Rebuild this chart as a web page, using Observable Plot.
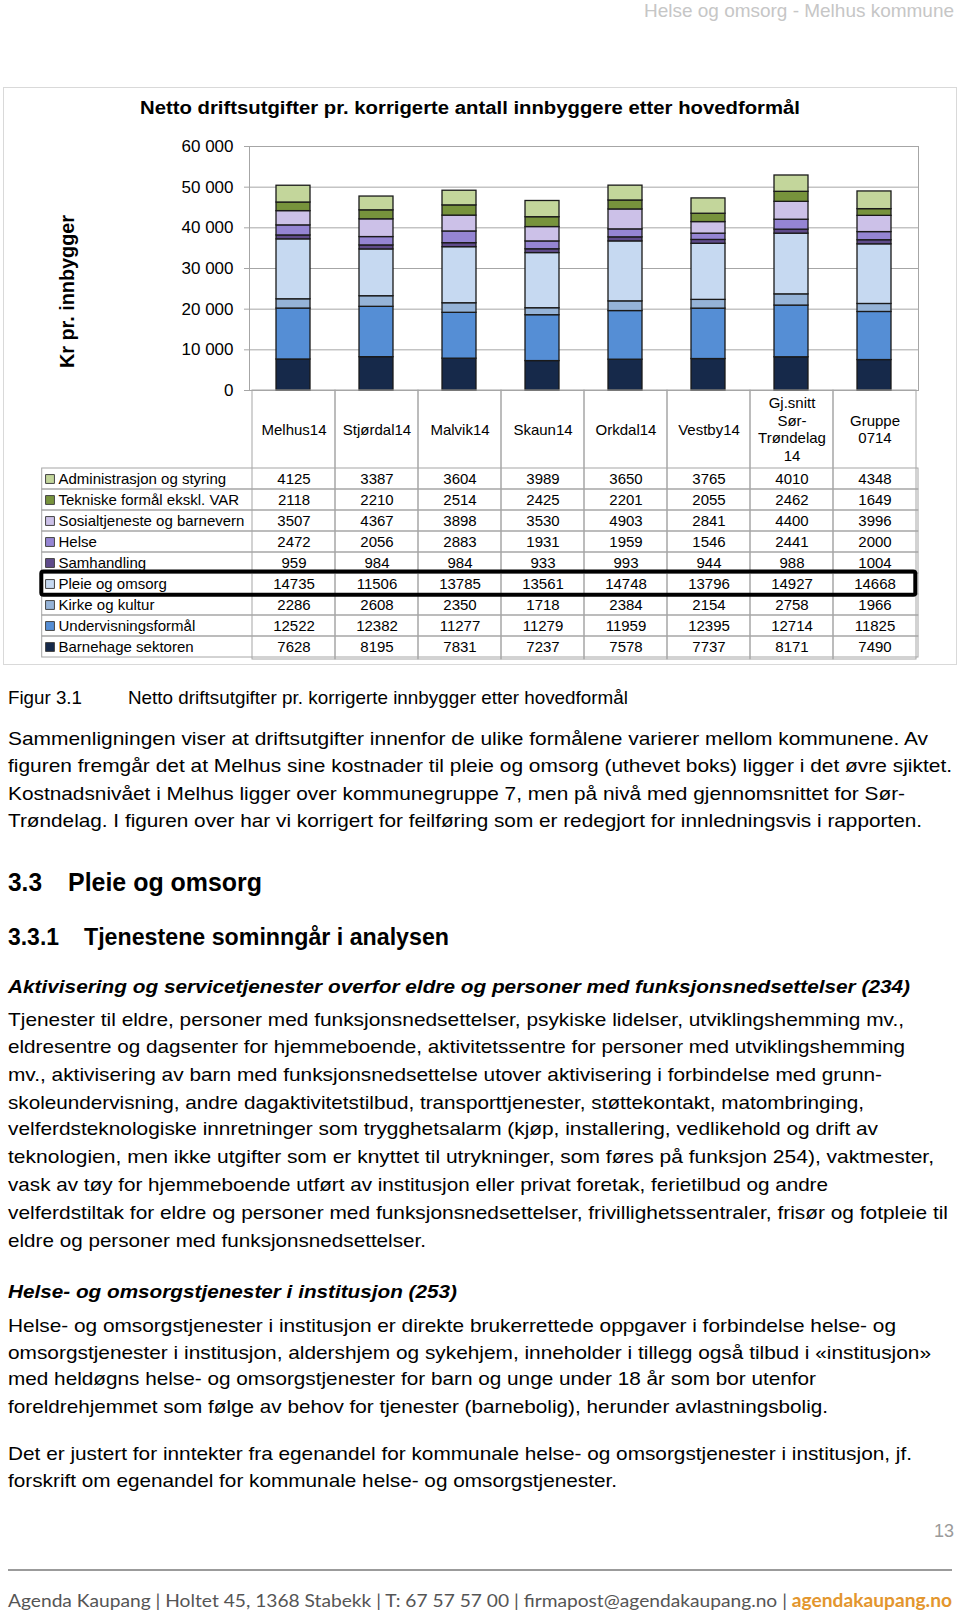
<!DOCTYPE html>
<html><head><meta charset="utf-8">
<script src="https://cdn.jsdelivr.net/npm/d3@7"></script>
<script src="https://cdn.jsdelivr.net/npm/@observablehq/plot@0.6"></script>
<style>
html,body{margin:0;padding:0;background:#fff;}
#page{position:relative;width:960px;height:1613px;overflow:hidden;font-family:"Liberation Sans",Arial,sans-serif;background:#fff;}
#frame{position:absolute;left:3px;top:87px;width:954px;height:578px;border:1.5px solid #d9d9d9;box-sizing:border-box;}
#plot1{position:absolute;left:0;top:120px;}
#plot2{position:absolute;left:0;top:390px;}
#overlay{position:absolute;left:0;top:0;}
</style></head>
<body>
<div id="page"><div id="frame"></div><div id="plot1"></div><div id="plot2"></div><svg id="overlay" width="960" height="1613"></svg></div>
<script>
// ---- chart data ----
const categories = ["Melhus14","Stjørdal14","Malvik14","Skaun14","Orkdal14","Vestby14","Gj.snitt Sør-Trøndelag 14","Gruppe 0714"];
const categoryLabels = ["Melhus14","Stjørdal14","Malvik14","Skaun14","Orkdal14","Vestby14","Gj.snitt\nSør-\nTrøndelag\n14","Gruppe\n0714"];
const seriesNames = ["Administrasjon og styring","Tekniske formål ekskl. VAR","Sosialtjeneste og barnevern","Helse","Samhandling","Pleie og omsorg","Kirke og kultur","Undervisningsformål","Barnehage sektoren"];
const seriesColors = ["#c3d69b","#77933c","#ccc1e8","#9585d3","#5f4b8b","#c6d9f1","#95b3d7","#558ed5","#16294a"];
const administrasjon = [4125,3387,3604,3989,3650,3765,4010,4348];
const tekniske = [2118,2210,2514,2425,2201,2055,2462,1649];
const sosial = [3507,4367,3898,3530,4903,2841,4400,3996];
const helse = [2472,2056,2883,1931,1959,1546,2441,2000];
const samhandling = [959,984,984,933,993,944,988,1004];
const pleie = [14735,11506,13785,13561,14748,13796,14927,14668];
const kirke = [2286,2608,2350,1718,2384,2154,2758,1966];
const undervisning = [12522,12382,11277,11279,11959,12395,12714,11825];
const barnehage = [7628,8195,7831,7237,7578,7737,8171,7490];
const yTicks = [0,10000,20000,30000,40000,50000,60000];
const highlighted = ["Pleie og omsorg"];

const seriesValues = [administrasjon,tekniske,sosial,helse,samhandling,pleie,kirke,undervisning,barnehage];
// long table, bottom of stack first
const long = [];
for (let s = seriesNames.length - 1; s >= 0; s--) {
  categories.forEach((c, i) => long.push({cat: c, series: seriesNames[s], value: seriesValues[s][i]}));
}
const fmt = d => d === 0 ? "0" : d3.format(",")(d).replace(/,/g, " ");
const font = "Liberation Sans, Arial, sans-serif";
const gridColor = "#a6a6a6";

const plot1 = Plot.plot({
  width: 960, height: 272, marginTop: 26, marginBottom: 2, marginLeft: 249, marginRight: 42,
  style: {background: "transparent", fontFamily: font, overflow: "visible"},
  x: {domain: categories, paddingInner: 0.59, paddingOuter: 0.295, axis: null},
  y: {domain: [0, 60000], axis: null},
  color: {domain: seriesNames, range: seriesColors},
  marks: [
    Plot.gridY(yTicks, {stroke: gridColor, strokeOpacity: 1}),
    Plot.frame({stroke: gridColor}),
    Plot.axisY(yTicks, {tickSize: 5, tickPadding: 11, fontSize: 17, stroke: gridColor, tickFormat: fmt, label: null}),
    Plot.barY(long, {x: "cat", y: "value", fill: "series", stroke: "#1a1a1a", strokeWidth: 1.3})
  ]
});
document.getElementById("plot1").appendChild(plot1);

const plot2 = Plot.plot({
  width: 960, height: 271, marginTop: 76.7, marginBottom: 2, marginLeft: 249, marginRight: 42,
  style: {background: "transparent", fontFamily: font, overflow: "visible"},
  x: {domain: categories, padding: 0, axis: null},
  y: {domain: seriesNames, padding: 0, axis: null},
  color: {domain: seriesNames, range: seriesColors},
  marks: [
    Plot.cell(seriesNames, {y: d => d, fill: "none", stroke: gridColor, insetLeft: -207.3}),
    Plot.cell(categories, {x: d => d, fill: "none", stroke: gridColor, insetTop: -76.7}),
    Plot.text(categories, {x: d => d, text: (d, i) => categoryLabels[i], frameAnchor: "top", dy: -38.3, lineAnchor: "middle", lineHeight: 1.17, fontSize: 15, fill: "#000"}),
    Plot.text(long, {x: "cat", y: "series", text: d => String(d.value), fontSize: 15, fill: "#000"}),
    Plot.dot(seriesNames, {y: d => d, frameAnchor: "left", dx: -199.5, symbol: "square", r: 5, fill: d => d, stroke: "#444", strokeWidth: 1}),
    Plot.text(seriesNames, {y: d => d, frameAnchor: "left", dx: -191, textAnchor: "start", fontSize: 15, fill: "#000"}),
    Plot.cell(highlighted, {y: d => d, fill: "none", stroke: "#000", strokeWidth: 4, insetLeft: -207.7, insetRight: 2.7, insetTop: -1.5, insetBottom: -0.8, rx: 2})
  ]
});
document.getElementById("plot2").appendChild(plot2);

// ---- page text (layout) ----
const B = "bold", I = "italic";
const pageText = [
  {t: "Helse og omsorg - Melhus kommune", x: 954, y: 17, size: 18.5, fill: "#c6c6c6", len: 310, anchor: "end"},
  {t: "Netto driftsutgifter pr. korrigerte antall innbyggere etter hovedformål", x: 140, y: 113.5, size: 18, weight: B, len: 660},
  {t: "Figur 3.1", x: 8, y: 704, size: 19, len: 74},
  {t: "Netto driftsutgifter pr. korrigerte innbygger etter hovedformål", x: 128, y: 704, size: 19, len: 500},
  {t: "Sammenligningen viser at driftsutgifter innenfor de ulike formålene varierer mellom kommunene. Av", x: 8, y: 744.5, size: 19, len: 920},
  {t: "figuren fremgår det at Melhus sine kostnader til pleie og omsorg (uthevet boks) ligger i det øvre sjiktet.", x: 8, y: 772, size: 19, len: 944},
  {t: "Kostnadsnivået i Melhus ligger over kommunegruppe 7, men på nivå med gjennomsnittet for Sør-", x: 8, y: 800, size: 19, len: 897},
  {t: "Trøndelag. I figuren over har vi korrigert for feilføring som er redegjort for innledningsvis i rapporten.", x: 8, y: 827, size: 19, len: 914},
  {t: "3.3", x: 8, y: 891, size: 25, weight: B, len: 34},
  {t: "Pleie og omsorg", x: 68, y: 891, size: 25, weight: B, len: 194},
  {t: "3.3.1", x: 8, y: 944.5, size: 23, weight: B, len: 51},
  {t: "Tjenestene sominngår i analysen", x: 84, y: 944.5, size: 23, weight: B, len: 365},
  {t: "Aktivisering og servicetjenester overfor eldre og personer med funksjonsnedsettelser (234)", x: 8, y: 992.5, size: 19, weight: B, style: I, len: 902},
  {t: "Tjenester til eldre, personer med funksjonsnedsettelser, psykiske lidelser, utviklingshemming mv.,", x: 8, y: 1026.3, size: 19, len: 896},
  {t: "eldresentre og dagsenter for hjemmeboende, aktivitetssentre for personer med utviklingshemming", x: 8, y: 1053.1, size: 19, len: 897},
  {t: "mv., aktivisering av barn med funksjonsnedsettelse utover aktivisering i forbindelse med grunn-", x: 8, y: 1080.9, size: 19, len: 874},
  {t: "skoleundervisning, andre dagaktivitetstilbud, transporttjenester, støttekontakt, matombringing,", x: 8, y: 1108.7, size: 19, len: 856},
  {t: "velferdsteknologiske innretninger som trygghetsalarm (kjøp, installering, vedlikehold og drift av", x: 8, y: 1135.4, size: 19, len: 870},
  {t: "teknologien, men ikke utgifter som er knyttet til utrykninger, som føres på funksjon 254), vaktmester,", x: 8, y: 1163.2, size: 19, len: 926},
  {t: "vask av tøy for hjemmeboende utført av institusjon eller privat foretak, ferietilbud og andre", x: 8, y: 1191, size: 19, len: 820},
  {t: "velferdstiltak for eldre og personer med funksjonsnedsettelser, frivillighetssentraler, frisør og fotpleie til", x: 8, y: 1218.7, size: 19, len: 940},
  {t: "eldre og personer med funksjonsnedsettelser.", x: 8, y: 1246.5, size: 19, len: 418},
  {t: "Helse- og omsorgstjenester i institusjon (253)", x: 8, y: 1298, size: 19, weight: B, style: I, len: 449},
  {t: "Helse- og omsorgstjenester i institusjon er direkte brukerrettede oppgaver i forbindelse helse- og", x: 8, y: 1331.9, size: 19, len: 888},
  {t: "omsorgstjenester i institusjon, aldershjem og sykehjem, inneholder i tillegg også tilbud i «institusjon»", x: 8, y: 1358.7, size: 19, len: 923},
  {t: "med heldøgns helse- og omsorgstjenester for barn og unge under 18 år som bor utenfor", x: 8, y: 1385.4, size: 19, len: 808},
  {t: "foreldrehjemmet som følge av behov for tjenester (barnebolig), herunder avlastningsbolig.", x: 8, y: 1413.2, size: 19, len: 820},
  {t: "Det er justert for inntekter fra egenandel for kommunale helse- og omsorgstjenester i institusjon, jf.", x: 8, y: 1459.5, size: 19, len: 904},
  {t: "forskrift om egenandel for kommunale helse- og omsorgstjenester.", x: 8, y: 1487.3, size: 19, len: 609},
  {t: "13", x: 954, y: 1536.5, size: 19, fill: "#9a9a9a", len: 20, anchor: "end"}
];

const svg = d3.select("#overlay");
svg.selectAll("text.pt").data(pageText).join("text")
  .attr("class", "pt")
  .attr("x", d => d.x).attr("y", d => d.y)
  .attr("font-family", font)
  .attr("font-size", d => d.size)
  .attr("font-weight", d => d.weight || "normal")
  .attr("font-style", d => d.style || "normal")
  .attr("fill", d => d.fill || "#000")
  .attr("text-anchor", d => d.anchor || "start")
  .attr("textLength", d => d.len)
  .attr("lengthAdjust", "spacingAndGlyphs")
  .text(d => d.t);

// y-axis title
svg.append("text")
  .attr("transform", "translate(67,291.5) rotate(-90)")
  .attr("text-anchor", "middle").attr("dominant-baseline", "central")
  .attr("font-family", font).attr("font-size", 20).attr("font-weight", "bold")
  .attr("textLength", 153).attr("lengthAdjust", "spacingAndGlyphs")
  .text("Kr pr. innbygger");

// footer
svg.append("line").attr("x1", 8).attr("x2", 952).attr("y1", 1570).attr("y2", 1570)
  .attr("stroke", "#7a7a7a").attr("stroke-width", 1.5);
const ft = svg.append("text").attr("x", 8).attr("y", 1607)
  .attr("font-family", "Lato, 'Open Sans', sans-serif").attr("font-size", 18)
  .attr("textLength", 944).attr("lengthAdjust", "spacingAndGlyphs");
ft.append("tspan").attr("fill", "#555").text("Agenda Kaupang | Holtet 45, 1368 Stabekk | T: 67 57 57 00 | firmapost@agendakaupang.no | ");
ft.append("tspan").attr("fill", "#e3962e").attr("font-weight", "bold").text("agendakaupang.no");
</script>
</body></html>
